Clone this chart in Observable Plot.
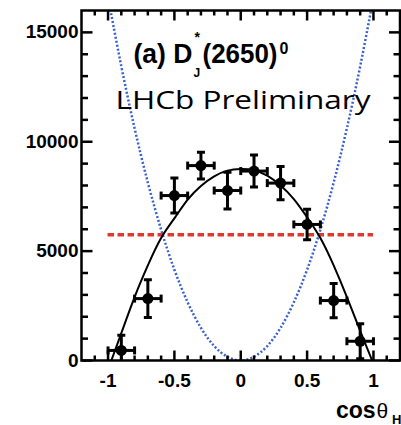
<!DOCTYPE html>
<html>
<head>
<meta charset="utf-8">
<script src="https://cdn.jsdelivr.net/npm/d3@7"></script>
<script src="https://cdn.jsdelivr.net/npm/@observablehq/plot@0.6"></script>
<style>
  html, body { margin: 0; padding: 0; background: #fff; }
  #chart svg { display: block; }
</style>
</head>
<body>
<div id="chart"></div>
<script>
// Helicity-angle distribution of D_J*(2650)^0 candidates, ten bins in cos(theta_H)
const binCenters = [-0.9, -0.7, -0.5, -0.3, -0.1, 0.1, 0.3, 0.5, 0.7, 0.9];
const yields = [460, 2830, 7540, 8910, 7770, 8660, 8110, 6220, 2740, 880];
const yieldErrors = [690, 860, 800, 610, 840, 730, 760, 700, 780, 800];
const binHalfWidth = 0.1;

// Fitted sin^2-like shape (solid black)
const fitCos = [-0.975, -0.9, -0.8, -0.7, -0.6, -0.5, -0.4, -0.3, -0.2, -0.1, 0,
                0.1, 0.2, 0.3, 0.4, 0.5, 0.6, 0.7, 0.8, 0.9, 0.99];
const fitValues = [0, 1250, 2900, 4350, 5600, 6500, 7350, 7980, 8420, 8680, 8750,
                   8700, 8450, 8000, 7380, 6550, 5600, 4350, 2900, 1350, 0];

// cos^2 hypothesis (blue dotted)
const cosSqCos = [-1, -0.9, -0.8, -0.7, -0.6, -0.5, -0.4, -0.3, -0.2, -0.1, 0,
                  0.1, 0.2, 0.3, 0.4, 0.5, 0.6, 0.7, 0.8, 0.9, 1];
const cosSqValues = [16600, 13450, 10620, 8130, 5980, 4150, 2660, 1490, 660, 170, 0,
                     170, 660, 1490, 2660, 4150, 5980, 8130, 10620, 13450, 16600];

// Flat hypothesis (red dashed)
const flatLevel = 5750;
const flatRange = [-1, 1];

// Axis ticks and labels
const xDomain = [-1.2, 1.2];
const yDomain = [0, 16000];
const xMajorTicks = [-1, -0.5, 0, 0.5, 1];
const xTickLabels = ["-1", "-0.5", "0", "0.5", "1"];
const xMinorTicks = [-1.1, -0.9, -0.8, -0.7, -0.6, -0.4, -0.3, -0.2, -0.1,
                     0.1, 0.2, 0.3, 0.4, 0.6, 0.7, 0.8, 0.9, 1.1];
const yMajorTicks = [0, 5000, 10000, 15000];
const yTickLabels = ["0", "5000", "10000", "15000"];
const yMinorTicks = [1000, 2000, 3000, 4000, 6000, 7000, 8000, 9000,
                     11000, 12000, 13000, 14000];

const points = binCenters.map((c, i) => ({c, v: yields[i], e: yieldErrors[i]}));
const fitLine = fitCos.map((c, i) => ({c, v: fitValues[i]}));
const cosSqLine = cosSqCos.map((c, i) => ({c, v: cosSqValues[i]}));

// Short line symbols used for inward ticks and error-bar caps
const tickSym = (dx, dy) => ({draw(ctx) { ctx.moveTo(0, 0); ctx.lineTo(dx, dy); }});
const capSym = (dx, dy) => ({draw(ctx) { ctx.moveTo(-dx, -dy); ctx.lineTo(dx, dy); }});

const sans = "Liberation Sans, Arial, Helvetica, sans-serif";
const ink = "#000";

const label = (text, anchor, dx, dy, size, weight, family) =>
  Plot.text([text], {
    text: d => d, frameAnchor: anchor, dx, dy,
    textAnchor: "start", lineAnchor: "bottom",
    fontSize: size, fontWeight: weight, fontFamily: family,
    fill: ink
  });

const chart = Plot.plot({
  width: 401,
  height: 425,
  marginLeft: 81,
  marginRight: 1.5,
  marginTop: 10,
  marginBottom: 65,
  x: {domain: xDomain},
  y: {domain: yDomain},
  marks: [
    // hypotheses
    Plot.line(cosSqLine, {x: "c", y: "v", curve: "natural", stroke: "#3a62cc",
      strokeWidth: 2.5, strokeDasharray: "2,2", strokeLinecap: "butt", clip: true}),
    Plot.ruleY([flatLevel], {x1: flatRange[0], x2: flatRange[1], stroke: "#e2382c",
      strokeWidth: 3.5, strokeDasharray: "6.5,3.5"}),
    Plot.line(fitLine, {x: "c", y: "v", curve: "natural", stroke: ink, strokeWidth: 2, clip: true}),

    // data points with error bars
    Plot.ruleX(points, {x: "c", y1: d => d.v - d.e, y2: d => d.v + d.e, stroke: ink, strokeWidth: 3, clip: true}),
    Plot.ruleY(points, {y: "v", x1: d => d.c - binHalfWidth, x2: d => d.c + binHalfWidth, stroke: ink, strokeWidth: 3}),
    Plot.dot(points, {x: "c", y: d => d.v + d.e, symbol: capSym(4, 0), stroke: ink, strokeWidth: 3, fill: "none", clip: true}),
    Plot.dot(points, {x: "c", y: d => d.v - d.e, symbol: capSym(4, 0), stroke: ink, strokeWidth: 3, fill: "none", clip: true}),
    Plot.dot(points, {x: d => d.c - binHalfWidth, y: "v", symbol: capSym(0, 4), stroke: ink, strokeWidth: 3, fill: "none"}),
    Plot.dot(points, {x: d => d.c + binHalfWidth, y: "v", symbol: capSym(0, 4), stroke: ink, strokeWidth: 3, fill: "none"}),
    Plot.dot(points, {x: "c", y: "v", r: 5.5, fill: ink, stroke: "none"}),

    // inward ticks on all four sides
    Plot.dot(yMajorTicks, {y: d => d, frameAnchor: "left", symbol: tickSym(11, 0), stroke: ink, strokeWidth: 2.5, fill: "none"}),
    Plot.dot(yMinorTicks, {y: d => d, frameAnchor: "left", symbol: tickSym(6.5, 0), stroke: ink, strokeWidth: 2.5, fill: "none"}),
    Plot.dot(yMajorTicks, {y: d => d, frameAnchor: "right", symbol: tickSym(-11, 0), stroke: ink, strokeWidth: 2.5, fill: "none"}),
    Plot.dot(yMinorTicks, {y: d => d, frameAnchor: "right", symbol: tickSym(-6.5, 0), stroke: ink, strokeWidth: 2.5, fill: "none"}),
    Plot.dot(xMajorTicks, {x: d => d, frameAnchor: "bottom", symbol: tickSym(0, -10), stroke: ink, strokeWidth: 2.5, fill: "none"}),
    Plot.dot(xMinorTicks, {x: d => d, frameAnchor: "bottom", symbol: tickSym(0, -5), stroke: ink, strokeWidth: 2.5, fill: "none"}),
    Plot.dot(xMajorTicks, {x: d => d, frameAnchor: "top", symbol: tickSym(0, 10), stroke: ink, strokeWidth: 2.5, fill: "none"}),
    Plot.dot(xMinorTicks, {x: d => d, frameAnchor: "top", symbol: tickSym(0, 5), stroke: ink, strokeWidth: 2.5, fill: "none"}),

    Plot.frame({stroke: ink, strokeWidth: 2.5}),

    // tick labels
    Plot.axisX({ticks: xMajorTicks, tickFormat: d => xTickLabels[xMajorTicks.indexOf(d)],
      tickSize: 0, tickPadding: 13, label: null, fontSize: 19, fontWeight: "bold",
      fontFamily: sans, fill: ink}),
    Plot.axisY({ticks: yMajorTicks, tickFormat: d => yTickLabels[yMajorTicks.indexOf(d)],
      tickSize: 0, tickPadding: 3, label: null, fontSize: 19, fontWeight: "bold",
      fontFamily: sans, fill: ink}),

    // axis title: cos(theta)_H
    label("cos", "bottom-right", -64, 57, 23, "bold", sans),
    label("\u03b8", "bottom-right", -23.5, 57, 21, "normal", sans),
    label("H", "bottom-right", -8, 63, 13, "bold", sans),

    // panel title: (a) D_J^*(2650)^0
    label("(a) D", "top-left", 52, 52, 27, "bold", sans),
    label("*", "top-left", 113, 31, 14, "bold", sans),
    label("J", "top-left", 112, 66, 12, "bold", sans),
    label("(2650)", "top-left", 121, 52, 27, "bold", sans),
    label("0", "top-left", 198, 43, 16, "bold", sans),

    label("LHCb Preliminary", "top-left", 34, 98, 26, "normal", "Open Sans, Lato, sans-serif")
  ]
});

// Stretch a few labels to their set widths
const widths = {"LHCb Preliminary": 255, "(a) D": 59, "(2650)": 75};
d3.select(chart).selectAll("text")
  .filter(function() { return this.textContent in widths; })
  .each(function() {
    d3.select(this).attr("textLength", widths[this.textContent]).attr("lengthAdjust", "spacingAndGlyphs");
  });

document.getElementById("chart").appendChild(chart);
</script>
</body>
</html>
